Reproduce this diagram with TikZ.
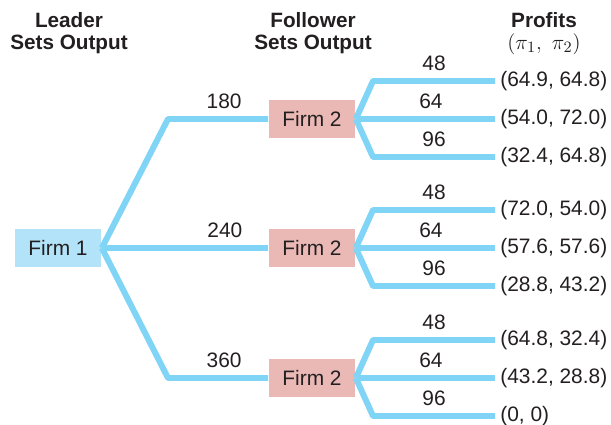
\documentclass[tikz,border=0pt]{standalone}
\usepackage{fontspec}
\setmainfont{Liberation Sans}
\usepackage{tikz}
\usetikzlibrary{positioning}
\definecolor{branchblue}{HTML}{80D4F5}
\definecolor{leadbg}{HTML}{B3E3F8}
\definecolor{follbg}{HTML}{EAB9B6}
\definecolor{inkgray}{HTML}{231F20}

\begin{document}
\begin{tikzpicture}[x=0.02cm, y=-0.02cm,
      every node/.style={text=inkgray, font=\fontsize{11.9}{13}\selectfont},
      lead/.style={fill=leadbg, minimum width=1.74cm, minimum height=0.75cm},
      foll/.style={fill=follbg, minimum width=1.74cm, minimum height=0.75cm},
      head/.style={align=center, anchor=north, inner sep=0pt,
                   font=\fontsize{11.8}{12.5}\selectfont\bfseries},
      pay/.style={inner sep=0pt},
      br/.style={draw=branchblue, line width=3.4pt, line join=round}
  ]
    \useasboundingbox (0,0) rectangle (611,425);
    \node[head] (hl) at (69,12)  {Leader\\Sets Output};
    \node[head] (hf) at (313,12) {Follower\\Sets Output};
    \node[head] (hp) at (544,12) {Profits\\{\fontsize{13}{12.5}\selectfont$(\pi_1,\ \pi_2)$}};

    \node[lead] (f1)  at (58,248)  {Firm 1};
    \node[foll] (f2a) at (312,119) {Firm 2};
    \node[foll] (f2b) at (312,248) {Firm 2};
    \node[foll] (f2c) at (312,378) {Firm 2};

    \coordinate (ua) at (168,119);
    \coordinate (da) at (168,378);
    \draw[br] (f1.east) -- (ua) -- node[above=1pt, pos=0.56] {180} (f2a.west);
    \draw[br] (f1.east) -- node[above=1pt, pos=0.74] {240} (f2b.west);
    \draw[br] (f1.east) -- (da) -- node[above=1pt, pos=0.56] {360} (f2c.west);

    \coordinate (ca1) at (373,81);
    \coordinate (ca3) at (373,157);
    \coordinate (ea1) at (495,81);
    \coordinate (ea2) at (495,119);
    \coordinate (ea3) at (495,157);
    \draw[br] (f2a.east) -- (ca1) -- node[above=1pt] {48} (ea1);
    \draw[br] (f2a.east) -- node[above=1pt, pos=0.54] {64} (ea2);
    \draw[br] (f2a.east) -- (ca3) -- node[above=1pt] {96} (ea3);
    \node[pay, right=0.1cm of ea1] (pa1) {(64.9, 64.8)};
    \node[pay, right=0.1cm of ea2] (pa2) {(54.0, 72.0)};
    \node[pay, right=0.1cm of ea3] (pa3) {(32.4, 64.8)};

    \coordinate (cb1) at (373,210);
    \coordinate (cb3) at (373,286);
    \coordinate (eb1) at (495,210);
    \coordinate (eb2) at (495,248);
    \coordinate (eb3) at (495,286);
    \draw[br] (f2b.east) -- (cb1) -- node[above=1pt] {48} (eb1);
    \draw[br] (f2b.east) -- node[above=1pt, pos=0.54] {64} (eb2);
    \draw[br] (f2b.east) -- (cb3) -- node[above=1pt] {96} (eb3);
    \node[pay, right=0.1cm of eb1] (pb1) {(72.0, 54.0)};
    \node[pay, right=0.1cm of eb2] (pb2) {(57.6, 57.6)};
    \node[pay, right=0.1cm of eb3] (pb3) {(28.8, 43.2)};

    \coordinate (cc1) at (373,340);
    \coordinate (cc3) at (373,416);
    \coordinate (ec1) at (495,340);
    \coordinate (ec2) at (495,378);
    \coordinate (ec3) at (495,416);
    \draw[br] (f2c.east) -- (cc1) -- node[above=1pt] {48} (ec1);
    \draw[br] (f2c.east) -- node[above=1pt, pos=0.54] {64} (ec2);
    \draw[br] (f2c.east) -- (cc3) -- node[above=1pt] {96} (ec3);
    \node[pay, right=0.1cm of ec1] (pc1) {(64.8, 32.4)};
    \node[pay, right=0.1cm of ec2] (pc2) {(43.2, 28.8)};
    \node[pay, right=0.1cm of ec3] (pc3) {(0, 0)};
\end{tikzpicture}
\end{document}
